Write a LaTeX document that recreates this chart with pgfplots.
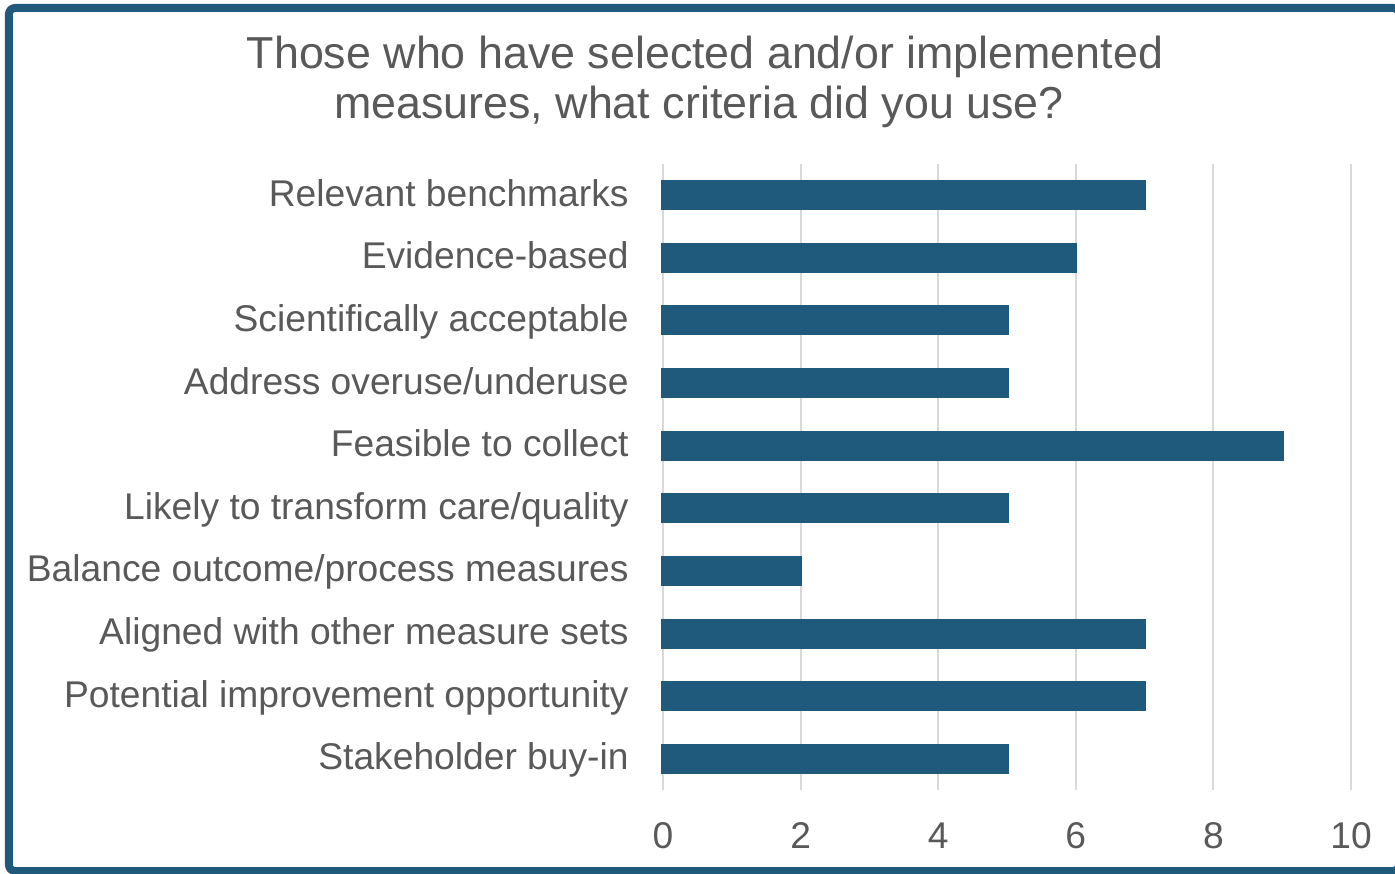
\documentclass[border=0pt]{standalone}
\usepackage{pgfplots}
\pgfplotsset{compat=1.18}
\usepackage{fontspec}
\setmainfont{Liberation Sans}
\definecolor{barblue}{HTML}{1F5A7C}
\definecolor{txtgray}{HTML}{595959}
\definecolor{gridgray}{HTML}{D9D9D9}
\begin{document}
\begin{tikzpicture}
\useasboundingbox (-331.5pt,-41.5pt) rectangle (366pt,395pt);
\begin{axis}[
  scale only axis,
  width=344pt, height=313pt,
  xbar, bar width=13.5pt,
  xmin=0, xmax=10,
  ymin=-0.5, ymax=9.5,
  xtick={0,2,4,6,8,10},
  ytick={0,1,2,3,4,5,6,7,8,9},
  yticklabels={Stakeholder buy-in,Potential improvement opportunity,Aligned with other measure sets,Balance outcome/process measures,Likely to transform care/quality,Feasible to collect,Address overuse/underuse,Scientifically acceptable,Evidence-based,Relevant benchmarks},
  axis line style={draw=none},
  tick style={draw=none},
  xmajorgrids, ymajorgrids=false, grid style={gridgray, line width=1pt},
  major tick length=0pt,
  /pgf/number format/assume math mode=true,
  ticklabel style={font=\fontsize{18.6}{22}\selectfont, text=txtgray},
  yticklabel style={inner sep=0pt, xshift=-17pt, yshift=-5.5pt, anchor=base east},
  xticklabel style={inner sep=0pt, yshift=-16pt, anchor=north},
  clip=false,
]
\addplot[fill=barblue, draw=barblue, line width=1.5pt] coordinates {
  (5,0) (7,1) (7,2) (2,3) (5,4) (9,5) (5,6) (5,7) (6,8) (7,9)
};
\end{axis}
\node[align=center, text=txtgray, font=\fontsize{22.4}{25}\selectfont, inner sep=0pt] at (21pt,354pt) {Those who have selected and/or implemented\\measures, what criteria did you use?\hspace{6pt}\mbox{}};
\draw[barblue, line width=4pt, rounded corners=3pt] (-327pt,-40.5pt) rectangle (368pt,391pt);
\end{tikzpicture}
\end{document}
